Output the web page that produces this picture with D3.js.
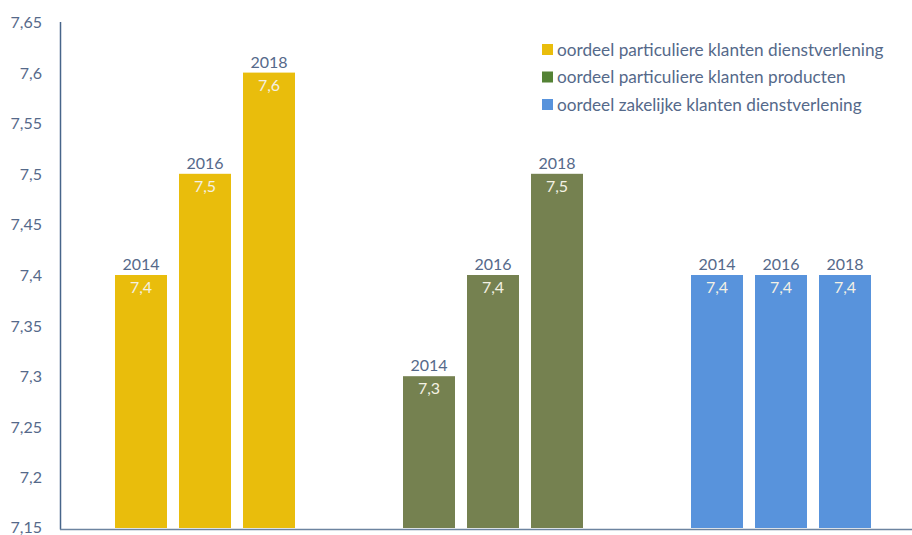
<!DOCTYPE html>
<html>
<head>
<meta charset="utf-8">
<script src="https://cdn.jsdelivr.net/npm/d3@7"></script>
<style>
  body { margin: 0; background: #fff; }
  svg text { font-family: "Source Sans Pro", Lato, "Open Sans", sans-serif; font-weight: 400; }
</style>
</head>
<body>
<svg id="canvas" width="912" height="535"></svg>
<script>
const groups = [
    "oordeel particuliere klanten dienstverlening",
    "oordeel particuliere klanten producten",
    "oordeel zakelijke klanten dienstverlening"
];
const years = ["2014", "2016", "2018"];
const dienstParticulier = [7.4, 7.5, 7.6];
const productParticulier = [7.3, 7.4, 7.5];
const dienstZakelijk = [7.4, 7.4, 7.4];
const yTicks = [7.15, 7.2, 7.25, 7.3, 7.35, 7.4, 7.45, 7.5, 7.55, 7.6, 7.65];

const barColors = ["#E9BD0C", "#758150", "#5893DC"];
const legendColors = ["#E9BD0C", "#548235", "#5893DC"];

const seriesValues = [dienstParticulier, productParticulier, dienstZakelijk];

const canvas = d3.select("#canvas");
const textColor = "#55698a";

const y = d3.scaleLinear().domain([7.15, 7.65]).range([528, 22]);
const x = d3.scaleBand().domain(groups).range([61, 925]);
const xInner = d3.scaleBand().domain(years).range([-96, 96])
    .paddingInner(0.1875).paddingOuter(0.09375);

// y tick labels
canvas.append("g")
    .selectAll("text")
    .data(yTicks)
    .enter()
    .append("text")
    .attr("x", 42)
    .attr("y", (d) => Math.min(y(d) + 6, 533))
    .attr("text-anchor", "end")
    .attr("fill", textColor)
    .style("font-size", "16px")
    .text((d) => d.toString().replace(".", ","));

// bars
const bars = [];
groups.forEach((g, gi) => {
    years.forEach((yr, yi) => {
        bars.push({ group: g, gi: gi, year: yr, value: seriesValues[gi][yi] });
    });
});

const block = canvas
    .append("g")
    .selectAll("g")
    .data(bars)
    .enter()
    .append("g")
    .attr("transform", (d) => `translate(${x(d.group) + x.bandwidth() / 2 + xInner(d.year)}, 0)`);

block
    .append("rect")
    .attr("x", 0)
    .attr("y", (d) => y(d.value))
    .attr("width", xInner.bandwidth())
    .attr("height", (d) => y(7.15) - y(d.value))
    .attr("fill", (d) => barColors[d.gi]);

block
    .append("text")
    .attr("x", xInner.bandwidth() / 2)
    .attr("y", (d) => y(d.value) - 5)
    .attr("text-anchor", "middle")
    .attr("fill", textColor)
    .style("font-size", "16px")
    .text((d) => d.year);

block
    .append("text")
    .attr("x", xInner.bandwidth() / 2)
    .attr("y", (d) => y(d.value) + 18)
    .attr("text-anchor", "middle")
    .attr("fill", "#f4f1e4")
    .style("font-size", "16px")
    .text((d) => d.value.toFixed(1).replace(".", ","));

// axes lines
canvas.append("line")
    .attr("x1", 60.5).attr("x2", 60.5)
    .attr("y1", y(7.65)).attr("y2", 529.5)
    .attr("stroke", "#47658a")
    .attr("stroke-width", 1.5);

canvas.append("line")
    .attr("x1", 60).attr("x2", 912)
    .attr("y1", 529.5).attr("y2", 529.5)
    .attr("stroke", "#6d84a0")
    .attr("stroke-width", 1.5);

// legend
const legend = canvas
    .append("g")
    .selectAll("g")
    .data(groups)
    .enter()
    .append("g")
    .attr("transform", (d, i) => `translate(542, ${44 + i * 27.5})`);

legend.append("rect")
    .attr("width", 11)
    .attr("height", 11)
    .attr("fill", (d, i) => legendColors[i]);

legend.append("text")
    .attr("x", 15)
    .attr("y", 11.5)
    .attr("fill", textColor)
    .style("font-size", "17.2px")
    .text((d) => d);
</script>
</body>
</html>
